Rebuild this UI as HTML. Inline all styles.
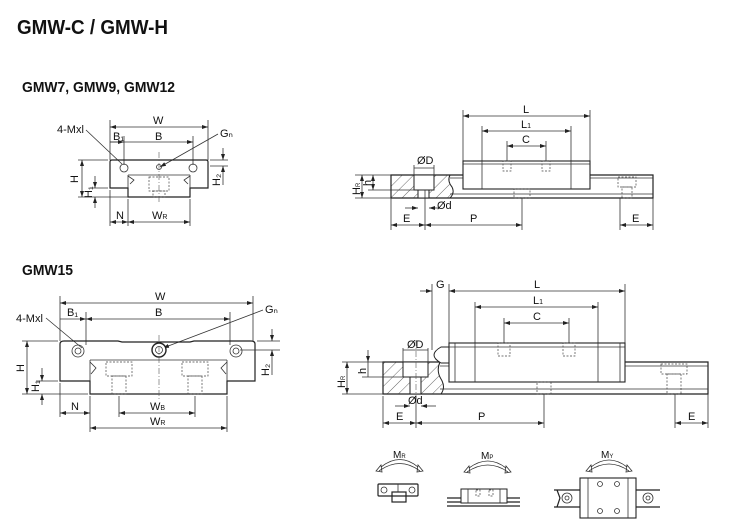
<!DOCTYPE html>
<html><head><meta charset="utf-8"><style>
html,body{margin:0;padding:0;background:#fff;}
svg{display:block;}
text{font-family:"Liberation Sans",sans-serif;fill:#111;}
.t{font-weight:bold;}
.l{stroke:#333;stroke-width:0.8;fill:none;}
.k{stroke:#222;stroke-width:1.2;fill:none;}
.d{stroke:#444;stroke-width:0.7;fill:none;stroke-dasharray:2,1.5;}
.c{stroke:#555;stroke-width:0.6;fill:none;stroke-dasharray:6,2,1,2;}
.h{stroke:#444;stroke-width:0.7;}
.s{font-size:11px;}
</style></head><body>
<svg width="730" height="530" viewBox="0 0 730 530" xmlns="http://www.w3.org/2000/svg">
<defs>
<marker id="a" markerWidth="6" markerHeight="6" refX="6" refY="3" orient="auto-start-reverse" markerUnits="userSpaceOnUse"><path d="M0,1 L6,3 L0,5 z" fill="#222"/></marker>
<pattern id="hp" width="8" height="8" patternUnits="userSpaceOnUse" patternTransform="rotate(45)"><line x1="0" y1="0" x2="0" y2="8" stroke="#444" stroke-width="0.8"/></pattern>
</defs>

<text class="t" x="17" y="34" font-size="20" textLength="151" lengthAdjust="spacingAndGlyphs">GMW-C / GMW-H</text>
<text class="t" x="22" y="92" font-size="15" textLength="153" lengthAdjust="spacingAndGlyphs">GMW7, GMW9, GMW12</text>
<text class="t" x="22" y="275" font-size="15" textLength="51" lengthAdjust="spacingAndGlyphs">GMW15</text>

<!-- ===== Front view small ===== -->
<g>
<line class="l" x1="110" y1="120" x2="110" y2="160"/><line class="l" x1="208" y1="120" x2="208" y2="160"/>
<line class="l" x1="110" y1="127" x2="208" y2="127" marker-start="url(#a)" marker-end="url(#a)"/>
<text class="s" x="153" y="124">W</text>
<line class="l" x1="124" y1="136" x2="124" y2="165"/><line class="l" x1="193" y1="136" x2="193" y2="165"/>
<line class="l" x1="110" y1="142" x2="193" y2="142" marker-end="url(#a)"/>
<line class="l" x1="110" y1="142" x2="124" y2="142" marker-end="url(#a)"/>
<text class="s" x="113" y="140" font-size="10">B₁</text>
<text class="s" x="155" y="140">B</text>
<text class="s" x="57" y="133" font-size="10">4-Mxl</text>
<line class="l" x1="86" y1="130" x2="122" y2="164"/>
<text class="s" x="220" y="137" font-size="10">Gₙ</text>
<line class="l" x1="218" y1="134" x2="160" y2="167" marker-end="url(#a)"/>
<!-- block -->
<path class="k" d="M110,162 Q110,160 112,160 L206,160 Q208,160 208,162 L208,188 L190,188 L190,197 L128,197 L128,188 L110,188 Z"/>
<path class="l" d="M128,175 L190,175 M128,175 L128,188 M190,175 L190,188"/>
<path class="l" d="M128,176 l6,4 -4,4 M190,176 l-6,4 4,4"/>
<circle class="l" cx="124" cy="168" r="4"/><circle class="l" cx="193" cy="168" r="4"/>
<circle class="l" cx="159" cy="167" r="2.5"/>
<rect class="d" x="149" y="177" width="20" height="14"/><rect class="d" x="153" y="191" width="12" height="6"/>
<line class="c" x1="159" y1="152" x2="159" y2="203"/>
<!-- H dims -->
<line class="l" x1="78" y1="160" x2="108" y2="160"/><line class="l" x1="78" y1="197" x2="128" y2="197"/>
<line class="l" x1="82" y1="160" x2="82" y2="197" marker-start="url(#a)" marker-end="url(#a)"/>
<text class="s" x="0" y="0" transform="translate(78,183) rotate(-90)">H</text>
<line class="l" x1="90" y1="188" x2="108" y2="188"/>
<line class="l" x1="95" y1="176" x2="95" y2="188" marker-end="url(#a)"/><line class="l" x1="95" y1="208" x2="95" y2="197" marker-end="url(#a)"/>
<text class="s" x="0" y="0" transform="translate(92,198) rotate(-90)" font-size="10">H₁</text>
<line class="l" x1="210" y1="160" x2="228" y2="160"/><line class="l" x1="210" y1="166" x2="228" y2="166"/>
<line class="l" x1="223" y1="148" x2="223" y2="160" marker-end="url(#a)"/><line class="l" x1="223" y1="185" x2="223" y2="166" marker-end="url(#a)"/>
<text class="s" x="0" y="0" transform="translate(220,186) rotate(-90)" font-size="10">H₂</text>
<line class="l" x1="110" y1="190" x2="110" y2="226"/><line class="l" x1="128" y1="199" x2="128" y2="226"/><line class="l" x1="190" y1="199" x2="190" y2="226"/>
<line class="l" x1="110" y1="222" x2="128" y2="222" marker-start="url(#a)" marker-end="url(#a)"/>
<line class="l" x1="128" y1="222" x2="190" y2="222" marker-start="url(#a)" marker-end="url(#a)"/>
<text class="s" x="116" y="219">N</text>
<text class="s" x="152" y="219">W<tspan font-size="7">R</tspan></text>
</g>

<!-- ===== Side view top ===== -->
<g>
<line class="l" x1="463" y1="110" x2="463" y2="161"/><line class="l" x1="590" y1="110" x2="590" y2="161"/>
<line class="l" x1="463" y1="116" x2="590" y2="116" marker-start="url(#a)" marker-end="url(#a)"/>
<text class="s" x="523" y="113">L</text>
<line class="l" x1="482" y1="126" x2="482" y2="161"/><line class="l" x1="571" y1="126" x2="571" y2="161"/>
<line class="l" x1="482" y1="131" x2="571" y2="131" marker-start="url(#a)" marker-end="url(#a)"/>
<text class="s" x="521" y="128">L<tspan font-size="7">1</tspan></text>
<line class="l" x1="507" y1="141" x2="507" y2="165"/><line class="l" x1="546" y1="141" x2="546" y2="165"/>
<line class="l" x1="507" y1="146" x2="546" y2="146" marker-start="url(#a)" marker-end="url(#a)"/>
<text class="s" x="522" y="143">C</text>
<!-- rail -->
<path class="k" d="M450,175 L653,175 L653,198 L391,198 L391,175 L455,175"/>
<line class="l" x1="450" y1="178" x2="653" y2="178"/><line class="l" x1="450" y1="194" x2="653" y2="194"/>
<path d="M391,175 L450,175 Q447,181 452,187 Q455,193 450,198 L391,198 Z" fill="url(#hp)" stroke="#222" stroke-width="1"/>
<rect x="414" y="175" width="20" height="15" fill="#fff" stroke="#222"/><rect x="418" y="190" width="11" height="8" fill="#fff" stroke="#222"/>
<!-- block -->
<rect x="463" y="161" width="127" height="28" fill="#fff" stroke="#222" stroke-width="1.1"/>
<line class="l" x1="482" y1="161" x2="482" y2="189"/><line class="l" x1="571" y1="161" x2="571" y2="189"/>
<line class="l" x1="463" y1="164" x2="590" y2="164"/>
<rect class="d" x="503" y="161" width="8" height="10"/><rect class="d" x="542" y="161" width="8" height="10"/>
<rect class="d" x="618" y="177" width="18" height="10"/><rect class="d" x="622" y="187" width="10" height="11"/>
<rect class="d" x="514" y="189" width="16" height="9"/>
<line class="l" x1="425" y1="190" x2="425" y2="230"/><line class="l" x1="391" y1="198" x2="391" y2="230"/><line class="l" x1="522" y1="198" x2="522" y2="230"/>
<line class="l" x1="620" y1="198" x2="620" y2="230"/><line class="l" x1="653" y1="198" x2="653" y2="230"/>
<line class="l" x1="391" y1="225" x2="425" y2="225" marker-start="url(#a)" marker-end="url(#a)"/>
<line class="l" x1="425" y1="225" x2="522" y2="225" marker-start="url(#a)" marker-end="url(#a)"/>
<line class="l" x1="620" y1="225" x2="653" y2="225" marker-start="url(#a)" marker-end="url(#a)"/>
<text class="s" x="403" y="222">E</text><text class="s" x="470" y="222">P</text><text class="s" x="632" y="222">E</text>
<line class="l" x1="414" y1="165" x2="414" y2="175"/><line class="l" x1="434" y1="165" x2="434" y2="175"/>
<line class="l" x1="414" y1="168" x2="434" y2="168"/>
<text class="s" x="417" y="164">ØD</text>
<line class="l" x1="405" y1="208" x2="418" y2="208" marker-end="url(#a)"/><line class="l" x1="440" y1="208" x2="429" y2="208" marker-end="url(#a)"/>
<text class="s" x="437" y="209">Ød</text>
<line class="l" x1="355" y1="175" x2="391" y2="175"/><line class="l" x1="355" y1="198" x2="391" y2="198"/><line class="l" x1="368" y1="190" x2="414" y2="190"/>
<line class="l" x1="362" y1="175" x2="362" y2="198" marker-start="url(#a)" marker-end="url(#a)"/>
<line class="l" x1="373" y1="175" x2="373" y2="190" marker-start="url(#a)" marker-end="url(#a)"/>
<text class="s" x="0" y="0" transform="translate(360,195) rotate(-90)" font-size="10">H<tspan font-size="6">R</tspan></text>
<text class="s" x="0" y="0" transform="translate(371,186) rotate(-90)" font-size="10">h</text>
</g>

<!-- ===== Front view large ===== -->
<g>
<line class="l" x1="60" y1="296" x2="60" y2="341"/><line class="l" x1="253" y1="296" x2="253" y2="341"/>
<line class="l" x1="60" y1="303" x2="253" y2="303" marker-start="url(#a)" marker-end="url(#a)"/>
<text class="s" x="155" y="300">W</text>
<line class="l" x1="86" y1="312" x2="86" y2="345"/><line class="l" x1="230" y1="312" x2="230" y2="345"/>
<line class="l" x1="60" y1="319" x2="86" y2="319" marker-end="url(#a)"/>
<line class="l" x1="86" y1="319" x2="230" y2="319" marker-start="url(#a)" marker-end="url(#a)"/>
<text class="s" x="67" y="316" font-size="10">B₁</text><text class="s" x="155" y="316">B</text>
<text class="s" x="16" y="322" font-size="10">4-Mxl</text>
<line class="l" x1="46" y1="318" x2="82" y2="348"/>
<text class="s" x="265" y="313" font-size="10">Gₙ</text>
<line class="l" x1="263" y1="310" x2="163" y2="348" marker-end="url(#a)"/>
<path class="k" d="M60,344 Q60,341 64,341 L118,341 L122,342 L190,342 L194,341 L251,341 Q255,341 255,344 L255,381 L227,381 L227,394 L90,394 L90,381 L60,381 Z"/>
<path class="l" d="M90,360 L227,360 M90,360 L90,381 M227,360 L227,381 M90,362 l6,6 -5,6 M227,362 l-6,6 5,6"/>
<circle class="l" cx="78" cy="351" r="6"/><circle class="l" cx="78" cy="351" r="3"/>
<circle class="l" cx="236" cy="351" r="6"/><circle class="l" cx="236" cy="351" r="3"/>
<circle cx="159" cy="350" r="7" fill="#fff" stroke="#222" stroke-width="1.4"/><circle class="l" cx="159" cy="350" r="3.5"/>
<rect class="d" x="106" y="362" width="26" height="14"/><rect class="d" x="112" y="376" width="14" height="18"/>
<rect class="d" x="182" y="362" width="26" height="14"/><rect class="d" x="188" y="376" width="14" height="18"/>
<line class="c" x1="159" y1="335" x2="159" y2="400"/>
<line class="l" x1="22" y1="341" x2="58" y2="341"/><line class="l" x1="22" y1="394" x2="88" y2="394"/>
<line class="l" x1="27" y1="341" x2="27" y2="394" marker-start="url(#a)" marker-end="url(#a)"/>
<text class="s" x="0" y="0" transform="translate(24,372) rotate(-90)">H</text>
<line class="l" x1="36" y1="381" x2="58" y2="381"/>
<line class="l" x1="42" y1="368" x2="42" y2="381" marker-end="url(#a)"/><line class="l" x1="42" y1="405" x2="42" y2="394" marker-end="url(#a)"/>
<text class="s" x="0" y="0" transform="translate(39,392) rotate(-90)" font-size="10">H₁</text>
<line class="l" x1="257" y1="341" x2="280" y2="341"/><line class="l" x1="240" y1="350" x2="280" y2="350"/>
<line class="l" x1="272" y1="329" x2="272" y2="341" marker-end="url(#a)"/><line class="l" x1="272" y1="375" x2="272" y2="350" marker-end="url(#a)"/>
<text class="s" x="0" y="0" transform="translate(269,376) rotate(-90)" font-size="10">H₂</text>
<line class="l" x1="60" y1="383" x2="60" y2="417"/><line class="l" x1="90" y1="396" x2="90" y2="432"/><line class="l" x1="227" y1="396" x2="227" y2="432"/>
<line class="l" x1="119" y1="396" x2="119" y2="417"/><line class="l" x1="195" y1="396" x2="195" y2="417"/>
<line class="l" x1="60" y1="413" x2="90" y2="413" marker-start="url(#a)" marker-end="url(#a)"/>
<line class="l" x1="119" y1="413" x2="195" y2="413" marker-start="url(#a)" marker-end="url(#a)"/>
<line class="l" x1="90" y1="428" x2="227" y2="428" marker-start="url(#a)" marker-end="url(#a)"/>
<text class="s" x="71" y="410">N</text>
<text class="s" x="150" y="410">W<tspan font-size="7">B</tspan></text>
<text class="s" x="150" y="425">W<tspan font-size="7">R</tspan></text>
</g>

<!-- ===== Side view large ===== -->
<g>
<line class="l" x1="432" y1="284" x2="432" y2="350"/><line class="l" x1="449" y1="284" x2="449" y2="343"/><line class="l" x1="625" y1="284" x2="625" y2="343"/>
<line class="l" x1="420" y1="291" x2="432" y2="291" marker-end="url(#a)"/>
<line class="l" x1="449" y1="291" x2="625" y2="291" marker-start="url(#a)" marker-end="url(#a)"/>
<text class="s" x="436" y="288">G</text><text class="s" x="534" y="288">L</text>
<line class="l" x1="475" y1="302" x2="475" y2="343"/><line class="l" x1="598" y1="302" x2="598" y2="343"/>
<line class="l" x1="475" y1="307" x2="598" y2="307" marker-start="url(#a)" marker-end="url(#a)"/>
<text class="s" x="533" y="304">L<tspan font-size="7">1</tspan></text>
<line class="l" x1="504" y1="318" x2="504" y2="345"/><line class="l" x1="569" y1="318" x2="569" y2="345"/>
<line class="l" x1="504" y1="323" x2="569" y2="323" marker-start="url(#a)" marker-end="url(#a)"/>
<text class="s" x="533" y="320">C</text>
<path class="k" d="M440,362 L708,362 L708,394 L383,394 L383,362 L440,362"/>
<line class="l" x1="440" y1="366" x2="708" y2="366"/><line class="l" x1="440" y1="389" x2="708" y2="389"/>
<path d="M383,362 L440,362 Q436,371 441,379 Q446,387 441,394 L383,394 Z" fill="url(#hp)" stroke="#222" stroke-width="1"/>
<rect x="403" y="362" width="25" height="15" fill="#fff" stroke="#222"/><rect x="410" y="377" width="11" height="17" fill="#fff" stroke="#222"/>
<line class="c" x1="416" y1="340" x2="416" y2="398"/>
<path d="M449,347 L441,347 Q434,351 434,355 Q434,359 441,363 L449,363" fill="#fff" stroke="#222"/>
<rect x="449" y="343" width="176" height="39" fill="#fff" stroke="#222" stroke-width="1.1"/>
<line class="l" x1="455" y1="343" x2="455" y2="382"/><line class="l" x1="620" y1="343" x2="620" y2="382"/>
<line class="l" x1="475" y1="343" x2="475" y2="382"/><line class="l" x1="598" y1="343" x2="598" y2="382"/>
<line class="l" x1="449" y1="347" x2="625" y2="347"/>
<rect class="d" x="498" y="343" width="12" height="13"/><rect class="d" x="563" y="343" width="12" height="13"/>
<rect class="d" x="661" y="364" width="26" height="10"/><rect class="d" x="667" y="374" width="14" height="20"/>
<rect class="d" x="537" y="382" width="14" height="12"/>
<line class="l" x1="383" y1="396" x2="383" y2="428"/><line class="l" x1="416" y1="396" x2="416" y2="428"/><line class="l" x1="544" y1="394" x2="544" y2="428"/>
<line class="l" x1="675" y1="394" x2="675" y2="428"/><line class="l" x1="708" y1="394" x2="708" y2="428"/>
<line class="l" x1="383" y1="423" x2="416" y2="423" marker-start="url(#a)" marker-end="url(#a)"/>
<line class="l" x1="416" y1="423" x2="544" y2="423" marker-start="url(#a)" marker-end="url(#a)"/>
<line class="l" x1="675" y1="423" x2="708" y2="423" marker-start="url(#a)" marker-end="url(#a)"/>
<text class="s" x="396" y="420">E</text><text class="s" x="478" y="420">P</text><text class="s" x="688" y="420">E</text>
<line class="l" x1="403" y1="348" x2="403" y2="362"/><line class="l" x1="428" y1="348" x2="428" y2="362"/>
<line class="l" x1="403" y1="350" x2="428" y2="350"/>
<text class="s" x="407" y="348">ØD</text>
<line class="l" x1="395" y1="406" x2="410" y2="406" marker-end="url(#a)"/><line class="l" x1="436" y1="406" x2="421" y2="406" marker-end="url(#a)"/>
<text class="s" x="408" y="404">Ød</text>
<line class="l" x1="342" y1="362" x2="383" y2="362"/><line class="l" x1="342" y1="394" x2="383" y2="394"/><line class="l" x1="362" y1="377" x2="403" y2="377"/>
<line class="l" x1="347" y1="362" x2="347" y2="394" marker-start="url(#a)" marker-end="url(#a)"/>
<line class="l" x1="368" y1="350" x2="368" y2="362" marker-end="url(#a)"/><line class="l" x1="368" y1="377" x2="368" y2="377"/>
<line class="l" x1="368" y1="362" x2="368" y2="377"/>
<text class="s" x="0" y="0" transform="translate(345,388) rotate(-90)" font-size="10">H<tspan font-size="6">R</tspan></text>
<text class="s" x="0" y="0" transform="translate(366,374) rotate(-90)" font-size="10">h</text>
</g>

<!-- ===== Moment icons ===== -->
<g>
<text x="393" y="458" font-size="10">M<tspan font-size="6">R</tspan></text>
<path class="l" d="M379,471 Q400,456 420,471 M381,467 Q400,452 418,467"/>
<path class="l" d="M376,471 l5,-6 1,7 z M423,471 l-5,-6 -1,7 z"/>
<rect class="k" x="378" y="484" width="40" height="12" rx="1"/>
<rect class="k" x="392" y="492" width="14" height="10"/>
<circle class="l" cx="384" cy="490" r="3"/><circle class="l" cx="412" cy="490" r="3"/>
<line class="l" x1="398" y1="484" x2="398" y2="492"/>

<text x="481" y="459" font-size="10">M<tspan font-size="6">P</tspan></text>
<path class="l" d="M467,472 Q488,458 508,472 M469,468 Q488,454 506,468"/>
<path class="l" d="M464,472 l5,-6 1,7 z M511,472 l-5,-6 -1,7 z"/>
<path class="k" d="M447,498 L520,498 M447,502 L520,502 M447,506 L520,506"/>
<rect x="461" y="489" width="46" height="14" fill="#fff" stroke="#222"/>
<line class="l" x1="468" y1="489" x2="468" y2="503"/><line class="l" x1="500" y1="489" x2="500" y2="503"/>
<rect class="d" x="476" y="490" width="4" height="6"/><rect class="d" x="489" y="490" width="4" height="6"/>

<text x="601" y="458" font-size="10">M<tspan font-size="6">Y</tspan></text>
<path class="l" d="M589,471 Q609,457 629,471 M591,467 Q609,453 627,467"/>
<path class="l" d="M586,471 l5,-6 1,7 z M632,471 l-5,-6 -1,7 z"/>
<path class="k" d="M554,490 L580,490 M554,507 L580,507 M636,490 L660,490 M636,507 L660,507 M557,490 l3,8 -3,9"/>
<circle class="l" cx="567" cy="498" r="5"/><circle class="l" cx="567" cy="498" r="2"/>
<circle class="l" cx="648" cy="498" r="5"/><circle class="l" cx="648" cy="498" r="2"/>
<rect x="580" y="478" width="56" height="40" fill="#fff" stroke="#222" stroke-width="1.1"/>
<line class="l" x1="588" y1="478" x2="588" y2="518"/><line class="l" x1="628" y1="478" x2="628" y2="518"/>
<circle class="l" cx="600" cy="484" r="2.5"/><circle class="l" cx="617" cy="484" r="2.5"/>
<circle class="l" cx="600" cy="511" r="2.5"/><circle class="l" cx="617" cy="511" r="2.5"/>
</g>
</svg>
</body></html>
